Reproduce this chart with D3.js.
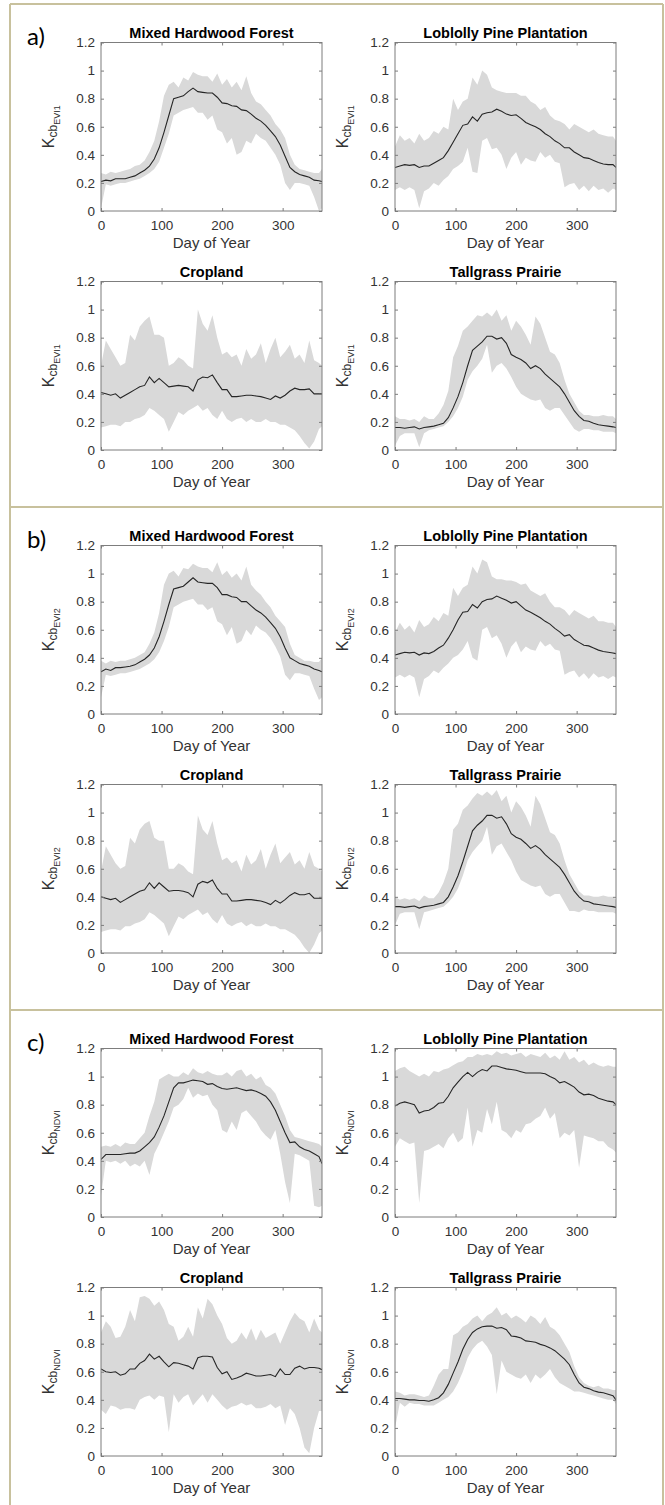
<!DOCTYPE html>
<html>
<head>
<meta charset="utf-8">
<script src="https://cdn.jsdelivr.net/npm/d3@7"></script>
<style>
  html, body { margin: 0; padding: 0; background: #ffffff; }
  svg { display: block; }
  text { font-family: "Liberation Sans", Arial, Helvetica, sans-serif; }
</style>
</head>
<body>
<svg id="fig" width="665" height="1505"></svg>
<script>
// Day-of-year sampling shared by every series (8-day composites)
const days = [0, 8, 16, 24, 32, 40, 48, 56, 64, 72, 80, 88,
  96, 104, 112, 120, 128, 136, 144, 152, 160, 168, 176, 184,
  192, 200, 208, 216, 224, 232, 240, 248, 256, 264, 272, 280,
  288, 296, 304, 312, 320, 328, 336, 344, 352, 360, 365];

const dayTicks = [0, 100, 200, 300];
const kcbTicks = [0, 0.2, 0.4, 0.6, 0.8, 1, 1.2];
const kcbTickLabels = ["0", "0.2", "0.4", "0.6", "0.8", "1", "1.2"];
const biomeNames = ["Mixed Hardwood Forest", "Loblolly Pine Plantation", "Cropland", "Tallgrass Prairie"];
const indexNames = ["EVI1", "EVI2", "NDVI"];
const panelLetters = ["a)", "b)", "c)"];
const xAxisTitle = "Day of Year";

// ---------- a) Kcb from EVI1 ----------
const evi1ForestMean = [0.21, 0.22, 0.215, 0.23, 0.23, 0.23, 0.24, 0.25, 0.27, 0.29, 0.32, 0.37,
  0.45, 0.56, 0.68, 0.80, 0.81, 0.82, 0.85, 0.875, 0.85, 0.845, 0.84, 0.84,
  0.81, 0.77, 0.765, 0.75, 0.745, 0.72, 0.715, 0.69, 0.66, 0.64, 0.61, 0.57,
  0.53, 0.47, 0.39, 0.31, 0.28, 0.26, 0.25, 0.24, 0.22, 0.215, 0.21];
const evi1ForestUpper = [0.27, 0.26, 0.28, 0.27, 0.28, 0.29, 0.30, 0.32, 0.33, 0.36, 0.42, 0.50,
  0.64, 0.82, 0.90, 0.92, 0.88, 0.95, 0.93, 0.99, 0.97, 0.96, 0.96, 0.92,
  0.98, 0.90, 0.94, 0.88, 0.92, 0.86, 0.96, 0.84, 0.78, 0.76, 0.72, 0.68,
  0.62, 0.58, 0.52, 0.40, 0.33, 0.30, 0.29, 0.28, 0.27, 0.27, 0.30];
const evi1ForestLower = [0.02, 0.19, 0.18, 0.19, 0.20, 0.20, 0.21, 0.22, 0.23, 0.25, 0.27, 0.30,
  0.35, 0.45, 0.55, 0.68, 0.70, 0.72, 0.73, 0.74, 0.70, 0.70, 0.65, 0.68,
  0.58, 0.56, 0.48, 0.52, 0.40, 0.42, 0.50, 0.48, 0.55, 0.52, 0.50, 0.45,
  0.40, 0.33, 0.20, 0.15, 0.20, 0.20, 0.19, 0.18, 0.10, 0.00, 0.02];

const evi1PineMean = [0.31, 0.32, 0.33, 0.325, 0.33, 0.31, 0.32, 0.32, 0.34, 0.36, 0.38, 0.43,
  0.49, 0.55, 0.61, 0.62, 0.67, 0.64, 0.69, 0.70, 0.705, 0.725, 0.71, 0.69,
  0.68, 0.685, 0.66, 0.63, 0.615, 0.60, 0.58, 0.55, 0.53, 0.50, 0.48, 0.45,
  0.45, 0.42, 0.40, 0.38, 0.375, 0.36, 0.345, 0.335, 0.33, 0.33, 0.31];
const evi1PineUpper = [0.46, 0.54, 0.50, 0.52, 0.48, 0.55, 0.50, 0.52, 0.57, 0.55, 0.60, 0.58,
  0.80, 0.72, 0.78, 0.80, 0.95, 0.90, 1.00, 0.97, 0.88, 0.86, 0.85, 0.84,
  0.84, 0.84, 0.82, 0.82, 0.78, 0.76, 0.72, 0.74, 0.68, 0.65, 0.64, 0.62,
  0.58, 0.62, 0.60, 0.58, 0.56, 0.58, 0.55, 0.54, 0.53, 0.53, 0.50];
const evi1PineLower = [0.15, 0.17, 0.15, 0.17, 0.15, 0.02, 0.14, 0.16, 0.20, 0.18, 0.22, 0.25,
  0.30, 0.32, 0.35, 0.45, 0.28, 0.27, 0.50, 0.52, 0.44, 0.45, 0.40, 0.30,
  0.38, 0.42, 0.33, 0.38, 0.36, 0.35, 0.42, 0.38, 0.40, 0.35, 0.34, 0.17,
  0.19, 0.20, 0.15, 0.18, 0.14, 0.18, 0.15, 0.16, 0.13, 0.16, 0.15];

const evi1CropMean = [0.41, 0.40, 0.39, 0.40, 0.37, 0.39, 0.41, 0.43, 0.45, 0.46, 0.52, 0.48,
  0.51, 0.48, 0.45, 0.455, 0.46, 0.455, 0.45, 0.42, 0.50, 0.52, 0.515, 0.535,
  0.48, 0.43, 0.43, 0.38, 0.38, 0.385, 0.39, 0.39, 0.385, 0.38, 0.37, 0.36,
  0.385, 0.37, 0.39, 0.42, 0.44, 0.43, 0.43, 0.435, 0.40, 0.40, 0.40];
const evi1CropUpper = [0.60, 0.78, 0.72, 0.66, 0.60, 0.62, 0.82, 0.78, 0.88, 0.92, 0.95, 0.82,
  0.82, 0.80, 0.60, 0.62, 0.66, 0.64, 0.60, 0.58, 1.00, 0.90, 0.85, 0.96,
  0.80, 0.68, 0.70, 0.66, 0.68, 0.60, 0.72, 0.65, 0.68, 0.76, 0.62, 0.72,
  0.80, 0.66, 0.70, 0.75, 0.65, 0.68, 0.62, 0.78, 0.64, 0.62, 0.60];
const evi1CropLower = [0.16, 0.17, 0.18, 0.18, 0.17, 0.20, 0.20, 0.22, 0.23, 0.25, 0.30, 0.28,
  0.25, 0.22, 0.13, 0.20, 0.27, 0.25, 0.28, 0.30, 0.32, 0.28, 0.30, 0.25,
  0.22, 0.28, 0.22, 0.20, 0.22, 0.23, 0.20, 0.22, 0.20, 0.20, 0.22, 0.20,
  0.20, 0.18, 0.18, 0.16, 0.14, 0.10, 0.05, 0.01, 0.06, 0.15, 0.17];

const evi1PrairieMean = [0.16, 0.16, 0.155, 0.16, 0.165, 0.15, 0.16, 0.165, 0.17, 0.18, 0.19, 0.23,
  0.30, 0.38, 0.48, 0.60, 0.71, 0.74, 0.77, 0.81, 0.81, 0.79, 0.80, 0.76,
  0.68, 0.66, 0.645, 0.62, 0.58, 0.60, 0.58, 0.54, 0.51, 0.48, 0.45, 0.40,
  0.34, 0.28, 0.24, 0.21, 0.205, 0.19, 0.18, 0.175, 0.17, 0.165, 0.16];
const evi1PrairieUpper = [0.24, 0.22, 0.22, 0.21, 0.22, 0.20, 0.24, 0.22, 0.22, 0.26, 0.32, 0.42,
  0.66, 0.74, 0.85, 0.88, 0.92, 0.96, 0.95, 0.98, 0.95, 1.00, 0.92, 0.96,
  0.85, 0.92, 0.88, 0.82, 0.75, 0.95, 0.90, 0.80, 0.70, 0.68, 0.62, 0.50,
  0.40, 0.34, 0.28, 0.25, 0.25, 0.24, 0.24, 0.25, 0.24, 0.24, 0.22];
const evi1PrairieLower = [0.03, 0.10, 0.12, 0.12, 0.12, 0.02, 0.12, 0.14, 0.15, 0.16, 0.17, 0.20,
  0.24, 0.30, 0.38, 0.50, 0.56, 0.60, 0.65, 0.75, 0.55, 0.60, 0.62, 0.58,
  0.52, 0.45, 0.40, 0.38, 0.36, 0.35, 0.36, 0.30, 0.28, 0.30, 0.30, 0.25,
  0.20, 0.15, 0.13, 0.15, 0.15, 0.14, 0.14, 0.13, 0.13, 0.13, 0.12];

// ---------- b) Kcb from EVI2 ----------
const evi2ForestMean = [0.30, 0.32, 0.31, 0.33, 0.33, 0.335, 0.34, 0.35, 0.37, 0.39, 0.42, 0.47,
  0.55, 0.66, 0.78, 0.89, 0.90, 0.91, 0.94, 0.97, 0.94, 0.935, 0.93, 0.93,
  0.90, 0.85, 0.85, 0.835, 0.83, 0.80, 0.80, 0.77, 0.74, 0.72, 0.69, 0.65,
  0.61, 0.55, 0.47, 0.40, 0.38, 0.36, 0.35, 0.34, 0.32, 0.31, 0.30];
const evi2ForestUpper = [0.38, 0.36, 0.38, 0.37, 0.38, 0.38, 0.39, 0.40, 0.42, 0.44, 0.50, 0.58,
  0.72, 0.92, 1.00, 1.02, 0.98, 1.04, 1.03, 1.07, 1.05, 1.04, 1.04, 1.01,
  1.08, 0.99, 1.02, 0.97, 1.00, 0.95, 1.05, 0.92, 0.88, 0.85, 0.80, 0.76,
  0.70, 0.66, 0.62, 0.50, 0.42, 0.40, 0.38, 0.38, 0.37, 0.37, 0.40];
const evi2ForestLower = [0.12, 0.28, 0.27, 0.28, 0.29, 0.29, 0.30, 0.31, 0.32, 0.34, 0.36, 0.39,
  0.44, 0.52, 0.62, 0.76, 0.78, 0.80, 0.81, 0.82, 0.78, 0.78, 0.74, 0.76,
  0.66, 0.64, 0.56, 0.62, 0.50, 0.52, 0.60, 0.56, 0.63, 0.60, 0.58, 0.54,
  0.48, 0.41, 0.28, 0.24, 0.29, 0.29, 0.28, 0.27, 0.18, 0.10, 0.12];

const evi2PineMean = [0.42, 0.43, 0.44, 0.435, 0.44, 0.42, 0.435, 0.43, 0.445, 0.47, 0.49, 0.54,
  0.60, 0.67, 0.725, 0.73, 0.78, 0.755, 0.80, 0.815, 0.82, 0.84, 0.825, 0.81,
  0.79, 0.80, 0.77, 0.74, 0.725, 0.705, 0.685, 0.66, 0.64, 0.61, 0.585, 0.555,
  0.565, 0.53, 0.51, 0.49, 0.485, 0.47, 0.455, 0.445, 0.44, 0.435, 0.43];
const evi2PineUpper = [0.58, 0.65, 0.60, 0.63, 0.58, 0.67, 0.62, 0.64, 0.69, 0.66, 0.72, 0.70,
  0.90, 0.84, 0.90, 0.92, 1.05, 1.00, 1.10, 1.08, 0.98, 0.96, 0.96, 0.95,
  0.95, 0.94, 0.92, 0.93, 0.88, 0.86, 0.84, 0.86, 0.80, 0.76, 0.76, 0.74,
  0.70, 0.74, 0.72, 0.70, 0.68, 0.70, 0.66, 0.66, 0.65, 0.65, 0.62];
const evi2PineLower = [0.26, 0.28, 0.26, 0.28, 0.26, 0.12, 0.25, 0.27, 0.31, 0.29, 0.33, 0.36,
  0.40, 0.42, 0.46, 0.52, 0.40, 0.38, 0.60, 0.62, 0.54, 0.56, 0.50, 0.40,
  0.48, 0.52, 0.44, 0.48, 0.46, 0.45, 0.52, 0.48, 0.50, 0.46, 0.45, 0.28,
  0.30, 0.31, 0.26, 0.29, 0.25, 0.29, 0.26, 0.27, 0.25, 0.27, 0.26];

const evi2CropMean = [0.40, 0.39, 0.38, 0.39, 0.36, 0.38, 0.40, 0.42, 0.44, 0.45, 0.50, 0.46,
  0.50, 0.47, 0.44, 0.445, 0.445, 0.44, 0.43, 0.40, 0.49, 0.51, 0.50, 0.52,
  0.46, 0.42, 0.42, 0.37, 0.37, 0.375, 0.38, 0.38, 0.375, 0.37, 0.36, 0.345,
  0.375, 0.355, 0.38, 0.41, 0.43, 0.415, 0.415, 0.425, 0.39, 0.39, 0.39];
const evi2CropUpper = [0.58, 0.76, 0.70, 0.64, 0.60, 0.62, 0.82, 0.78, 0.88, 0.92, 0.94, 0.82,
  0.80, 0.80, 0.60, 0.60, 0.64, 0.62, 0.58, 0.56, 0.98, 0.88, 0.84, 0.94,
  0.78, 0.66, 0.68, 0.64, 0.66, 0.58, 0.70, 0.63, 0.66, 0.74, 0.60, 0.70,
  0.78, 0.64, 0.68, 0.72, 0.63, 0.66, 0.60, 0.72, 0.62, 0.60, 0.58];
const evi2CropLower = [0.15, 0.16, 0.17, 0.17, 0.16, 0.19, 0.19, 0.21, 0.22, 0.24, 0.29, 0.27,
  0.24, 0.21, 0.12, 0.19, 0.26, 0.24, 0.27, 0.29, 0.31, 0.27, 0.29, 0.24,
  0.21, 0.27, 0.21, 0.19, 0.21, 0.22, 0.19, 0.21, 0.19, 0.19, 0.21, 0.19,
  0.19, 0.17, 0.17, 0.15, 0.13, 0.09, 0.04, 0.00, 0.06, 0.14, 0.16];

const evi2PrairieMean = [0.33, 0.33, 0.325, 0.33, 0.335, 0.32, 0.33, 0.335, 0.34, 0.35, 0.36, 0.40,
  0.47, 0.55, 0.65, 0.76, 0.87, 0.91, 0.94, 0.98, 0.98, 0.96, 0.97, 0.92,
  0.85, 0.825, 0.81, 0.78, 0.745, 0.765, 0.74, 0.70, 0.67, 0.64, 0.61, 0.56,
  0.50, 0.44, 0.40, 0.37, 0.365, 0.35, 0.345, 0.34, 0.335, 0.33, 0.325];
const evi2PrairieUpper = [0.40, 0.38, 0.39, 0.38, 0.39, 0.37, 0.41, 0.39, 0.39, 0.43, 0.50, 0.60,
  0.88, 0.92, 1.02, 1.05, 1.10, 1.14, 1.12, 1.15, 1.12, 1.16, 1.08, 1.12,
  1.00, 1.08, 1.04, 0.98, 0.90, 1.12, 1.06, 0.96, 0.86, 0.84, 0.78, 0.66,
  0.56, 0.50, 0.44, 0.41, 0.41, 0.40, 0.40, 0.41, 0.40, 0.40, 0.38];
const evi2PrairieLower = [0.20, 0.28, 0.29, 0.29, 0.29, 0.17, 0.29, 0.30, 0.31, 0.32, 0.33, 0.36,
  0.40, 0.46, 0.55, 0.66, 0.72, 0.76, 0.80, 0.90, 0.70, 0.76, 0.78, 0.72,
  0.66, 0.58, 0.52, 0.50, 0.48, 0.47, 0.48, 0.42, 0.40, 0.42, 0.42, 0.36,
  0.30, 0.30, 0.29, 0.31, 0.30, 0.30, 0.29, 0.29, 0.29, 0.29, 0.28];

// ---------- c) Kcb from NDVI ----------
const ndviForestMean = [0.41, 0.445, 0.445, 0.445, 0.445, 0.45, 0.455, 0.455, 0.47, 0.50, 0.53, 0.57,
  0.64, 0.72, 0.82, 0.92, 0.955, 0.955, 0.965, 0.975, 0.97, 0.965, 0.945, 0.95,
  0.93, 0.915, 0.91, 0.915, 0.92, 0.91, 0.90, 0.905, 0.895, 0.88, 0.86, 0.82,
  0.76, 0.68, 0.60, 0.53, 0.535, 0.50, 0.48, 0.47, 0.45, 0.43, 0.38];
const ndviForestUpper = [0.50, 0.51, 0.50, 0.52, 0.50, 0.53, 0.52, 0.52, 0.56, 0.60, 0.72, 0.82,
  0.98, 1.00, 1.02, 1.00, 1.00, 1.03, 1.01, 1.06, 1.03, 1.02, 1.04, 1.02,
  1.01, 1.01, 1.03, 1.00, 1.04, 1.05, 1.00, 1.02, 0.98, 1.00, 0.94, 0.92,
  0.88, 0.80, 0.72, 0.62, 0.57, 0.56, 0.55, 0.54, 0.53, 0.52, 0.50];
const ndviForestLower = [0.15, 0.40, 0.39, 0.40, 0.38, 0.40, 0.36, 0.38, 0.36, 0.40, 0.30, 0.45,
  0.52, 0.60, 0.68, 0.78, 0.80, 0.84, 0.92, 0.85, 0.88, 0.86, 0.87, 0.80,
  0.76, 0.62, 0.60, 0.68, 0.62, 0.74, 0.76, 0.72, 0.68, 0.62, 0.58, 0.55,
  0.62, 0.45, 0.25, 0.10, 0.45, 0.44, 0.42, 0.40, 0.08, 0.07, 0.08];

const ndviPineMean = [0.79, 0.81, 0.82, 0.81, 0.80, 0.74, 0.755, 0.76, 0.78, 0.81, 0.815, 0.86,
  0.92, 0.96, 1.00, 1.03, 1.00, 1.03, 1.05, 1.04, 1.075, 1.075, 1.065, 1.055,
  1.05, 1.045, 1.035, 1.025, 1.025, 1.025, 1.025, 1.02, 1.00, 0.985, 0.955, 0.965,
  0.945, 0.925, 0.89, 0.87, 0.875, 0.865, 0.845, 0.835, 0.825, 0.82, 0.80];
const ndviPineUpper = [1.04, 1.06, 1.07, 1.04, 1.02, 1.00, 1.02, 1.00, 1.04, 1.03, 1.05, 1.06,
  1.08, 1.10, 1.11, 1.14, 1.14, 1.16, 1.15, 1.16, 1.15, 1.18, 1.16, 1.17,
  1.15, 1.16, 1.17, 1.14, 1.16, 1.15, 1.14, 1.17, 1.13, 1.15, 1.12, 1.18,
  1.12, 1.14, 1.10, 1.12, 1.08, 1.10, 1.08, 1.07, 1.08, 1.07, 1.07];
const ndviPineLower = [0.50, 0.56, 0.54, 0.52, 0.53, 0.10, 0.47, 0.48, 0.50, 0.52, 0.49, 0.56,
  0.60, 0.53, 0.56, 0.78, 0.50, 0.62, 0.60, 0.77, 0.66, 0.82, 0.62, 0.60,
  0.56, 0.62, 0.60, 0.66, 0.67, 0.70, 0.72, 0.78, 0.70, 0.74, 0.56, 0.60,
  0.58, 0.62, 0.35, 0.58, 0.57, 0.56, 0.54, 0.54, 0.50, 0.48, 0.46];

const ndviCropMean = [0.62, 0.60, 0.595, 0.60, 0.575, 0.585, 0.62, 0.62, 0.66, 0.68, 0.725, 0.69,
  0.71, 0.67, 0.635, 0.665, 0.66, 0.65, 0.64, 0.62, 0.70, 0.71, 0.71, 0.705,
  0.63, 0.585, 0.60, 0.545, 0.555, 0.57, 0.59, 0.58, 0.57, 0.57, 0.575, 0.58,
  0.565, 0.62, 0.58, 0.58, 0.625, 0.64, 0.62, 0.63, 0.63, 0.625, 0.615];
const ndviCropUpper = [0.88, 0.96, 0.92, 0.84, 0.85, 0.92, 1.04, 0.96, 1.13, 1.14, 1.12, 1.07,
  1.10, 1.04, 0.94, 0.92, 0.82, 0.85, 0.92, 0.85, 1.06, 0.98, 1.12, 1.08,
  1.00, 0.94, 0.84, 0.80, 0.82, 0.88, 0.83, 0.91, 0.82, 0.90, 0.84, 0.86,
  0.88, 0.80, 0.88, 0.96, 1.02, 0.98, 0.96, 0.88, 0.98, 0.90, 0.88];
const ndviCropLower = [0.33, 0.30, 0.36, 0.35, 0.33, 0.34, 0.34, 0.33, 0.40, 0.42, 0.43, 0.40,
  0.43, 0.42, 0.17, 0.44, 0.38, 0.42, 0.44, 0.36, 0.40, 0.44, 0.38, 0.44,
  0.40, 0.36, 0.33, 0.35, 0.36, 0.38, 0.36, 0.37, 0.34, 0.34, 0.35, 0.37,
  0.34, 0.36, 0.22, 0.34, 0.30, 0.20, 0.06, 0.02, 0.20, 0.32, 0.32];

const ndviPrairieMean = [0.41, 0.41, 0.405, 0.40, 0.40, 0.395, 0.395, 0.39, 0.40, 0.415, 0.45, 0.51,
  0.59, 0.67, 0.76, 0.83, 0.88, 0.905, 0.92, 0.925, 0.925, 0.91, 0.915, 0.90,
  0.855, 0.85, 0.84, 0.82, 0.815, 0.81, 0.795, 0.785, 0.77, 0.75, 0.72, 0.69,
  0.65, 0.58, 0.52, 0.49, 0.48, 0.465, 0.455, 0.45, 0.44, 0.43, 0.40];
const ndviPrairieUpper = [0.46, 0.45, 0.43, 0.44, 0.44, 0.43, 0.42, 0.43, 0.50, 0.58, 0.62, 0.62,
  0.86, 0.88, 0.92, 0.94, 0.98, 1.00, 0.96, 1.00, 1.02, 1.06, 1.00, 1.02,
  0.98, 1.00, 0.98, 0.95, 1.00, 0.98, 0.94, 0.99, 0.92, 0.90, 0.86, 0.80,
  0.74, 0.64, 0.56, 0.52, 0.50, 0.49, 0.50, 0.48, 0.48, 0.47, 0.47];
const ndviPrairieLower = [0.20, 0.38, 0.35, 0.38, 0.37, 0.37, 0.36, 0.36, 0.36, 0.38, 0.40, 0.42,
  0.46, 0.52, 0.60, 0.70, 0.76, 0.80, 0.82, 0.78, 0.72, 0.44, 0.68, 0.60,
  0.58, 0.56, 0.55, 0.58, 0.52, 0.58, 0.55, 0.58, 0.62, 0.56, 0.52, 0.50,
  0.48, 0.46, 0.46, 0.45, 0.44, 0.43, 0.42, 0.41, 0.40, 0.40, 0.37];

// Series grouped per panel (one row per vegetation index, biomes in reading order)
const panelSeries = [
  [[evi1ForestMean, evi1ForestUpper, evi1ForestLower], [evi1PineMean, evi1PineUpper, evi1PineLower],
   [evi1CropMean, evi1CropUpper, evi1CropLower], [evi1PrairieMean, evi1PrairieUpper, evi1PrairieLower]],
  [[evi2ForestMean, evi2ForestUpper, evi2ForestLower], [evi2PineMean, evi2PineUpper, evi2PineLower],
   [evi2CropMean, evi2CropUpper, evi2CropLower], [evi2PrairieMean, evi2PrairieUpper, evi2PrairieLower]],
  [[ndviForestMean, ndviForestUpper, ndviForestLower], [ndviPineMean, ndviPineUpper, ndviPineLower],
   [ndviCropMean, ndviCropUpper, ndviCropLower], [ndviPrairieMean, ndviPrairieUpper, ndviPrairieLower]]
];

// ---------- layout ----------
const svg = d3.select("#fig");
const W = 665, H = 1505;
const sectionTop = [4, 507, 1010];
const frameLeft = 10, frameRight = 663;
const frameColor = "#c8c19d";
const colLeft = [101, 395];
const plotW = 221, plotH = 168.5;
const rowOffset = [38.5, 277.5];

const axisColor = "#7d7d7d";
const tickTextColor = "#333333";
const bandColor = "#d9d9d9";
const meanColor = "#262626";

// frame lines separating the three panels
const frame = svg.append("g").attr("class", "frame")
  .attr("stroke", frameColor).attr("stroke-width", 2).attr("fill", "none");
frame.append("line").attr("x1", frameLeft).attr("x2", frameLeft).attr("y1", sectionTop[0]).attr("y2", H);
frame.append("line").attr("x1", frameRight).attr("x2", frameRight).attr("y1", sectionTop[0]).attr("y2", H);
sectionTop.forEach(t => {
  frame.append("line").attr("x1", frameLeft).attr("x2", frameRight).attr("y1", t).attr("y2", t);
});

const x = d3.scaleLinear().domain([0, 365]).range([0, plotW]);
const y = d3.scaleLinear().domain([0, 1.2]).range([plotH, 0]);

const band = d3.area()
  .x(d => x(d.day)).y0(d => y(d.lo)).y1(d => y(d.hi));
const meanLine = d3.line()
  .x(d => x(d.day)).y(d => y(d.mean));

let clipId = 0;

panelSeries.forEach((panel, pi) => {
  const top = sectionTop[pi];

  // panel letter
  svg.append("text")
    .attr("x", 27).attr("y", top + 41)
    .style("font-family", "Lato, 'Open Sans', sans-serif")
    .style("font-size", "24px")
    .attr("fill", "#000")
    .text(panelLetters[pi]);

  panel.forEach((series, bi) => {
    const [meanVals, upperVals, lowerVals] = series;
    const rows = days.map((day, i) => ({ day, mean: meanVals[i], hi: upperVals[i], lo: lowerVals[i] }));
    const left = colLeft[bi % 2];
    const ptop = top + rowOffset[Math.floor(bi / 2)];
    const g = svg.append("g").attr("transform", `translate(${left},${ptop})`);

    const cid = "clip" + (clipId++);
    g.append("clipPath").attr("id", cid)
      .append("rect").attr("width", plotW).attr("height", plotH);

    const plot = g.append("g").attr("clip-path", `url(#${cid})`);
    plot.append("path").datum(rows)
      .attr("d", band).attr("fill", bandColor).attr("stroke", "none");
    plot.append("path").datum(rows)
      .attr("d", meanLine).attr("fill", "none")
      .attr("stroke", meanColor).attr("stroke-width", 1.1);

    // axes with inward ticks on all four sides
    const styleAxis = sel => {
      sel.select(".domain").remove();
      sel.selectAll(".tick line").attr("stroke", axisColor);
      sel.selectAll(".tick text")
        .attr("fill", tickTextColor)
        .style("font-family", "'Liberation Sans', Arial, sans-serif")
        .style("font-size", "13.5px");
    };
    g.append("g").attr("transform", `translate(0,${plotH})`)
      .call(d3.axisBottom(x).tickValues(dayTicks).tickFormat(d3.format("d"))
        .tickSizeInner(-3).tickSizeOuter(0).tickPadding(9.5))
      .call(styleAxis);
    g.append("g")
      .call(d3.axisTop(x).tickValues(dayTicks).tickFormat("")
        .tickSizeInner(-3).tickSizeOuter(0))
      .call(styleAxis);
    g.append("g")
      .call(d3.axisLeft(y).tickValues(kcbTicks).tickFormat((d, i) => kcbTickLabels[i])
        .tickSizeInner(-3).tickSizeOuter(0).tickPadding(6))
      .call(styleAxis);
    g.append("g").attr("transform", `translate(${plotW},0)`)
      .call(d3.axisRight(y).tickValues(kcbTicks).tickFormat("")
        .tickSizeInner(-3).tickSizeOuter(0))
      .call(styleAxis);

    // plot box
    g.append("rect").attr("width", plotW).attr("height", plotH)
      .attr("fill", "none").attr("stroke", axisColor).attr("stroke-width", 1);

    // title
    g.append("text")
      .attr("x", plotW / 2).attr("y", -5)
      .attr("text-anchor", "middle")
      .style("font-size", "14.5px").style("font-weight", "bold")
      .attr("fill", "#000")
      .text(biomeNames[bi]);

    // x label
    g.append("text")
      .attr("x", plotW / 2).attr("y", plotH + 37)
      .attr("text-anchor", "middle")
      .style("font-size", "15px")
      .attr("fill", tickTextColor)
      .text(xAxisTitle);

    // y label: K with nested subscripts
    const yl = g.append("text")
      .attr("transform", `translate(-47,${plotH / 2}) rotate(-90)`)
      .attr("text-anchor", "middle")
      .attr("fill", tickTextColor);
    yl.append("tspan").style("font-size", "16px").text("K");
    yl.append("tspan").style("font-size", "12px").attr("dy", 3).text("cb");
    yl.append("tspan").style("font-size", "9px").attr("dy", 3).text(indexNames[pi]);
  });
});
</script>
</body>
</html>
